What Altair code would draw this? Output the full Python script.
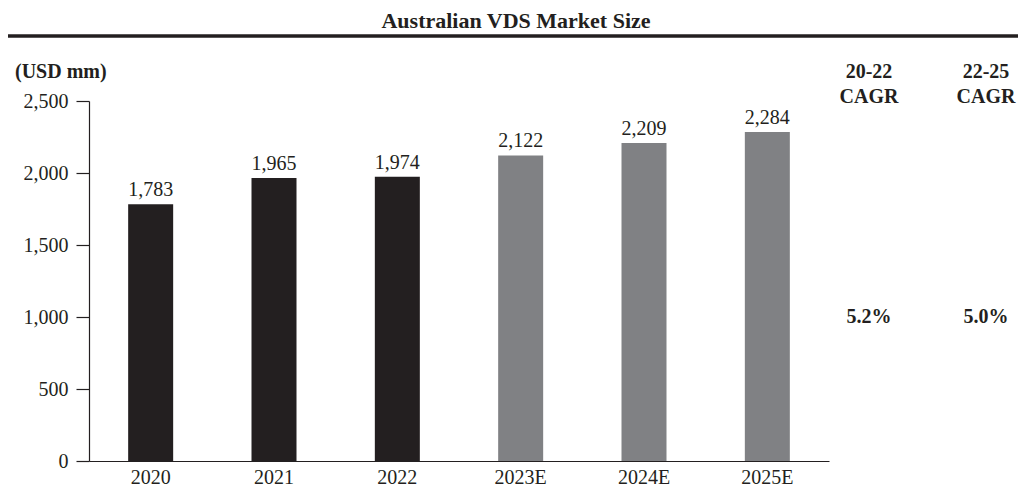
import altair as alt
import pandas as pd

years = ["2020", "2021", "2022", "2023E", "2024E", "2025E"]
values = [1783, 1965, 1974, 2122, 2209, 2284]
kinds = ["Actual", "Actual", "Actual", "Estimate", "Estimate", "Estimate"]
y_ticks = [0, 500, 1000, 1500, 2000, 2500]

cagr_heads = ["20-22", "22-25"]
cagr_vals = ["5.2%", "5.0%"]

title_text = "Australian VDS Market Size"
unit_text = "(USD mm)"

FONT = "Liberation Serif"
BLACK = "#231f20"
GREY = "#808184"
INK = "#231f20"

df = pd.DataFrame({"year": years, "value": values, "kind": kinds})
df["label"] = [f"{v:,}" for v in values]

W, H = 740, 360
LEFT, TOP = 81, 93
OX, OY = 8 + LEFT, 8 + TOP  # page position of the view origin

base = alt.Chart(df)

bars = base.mark_bar(size=45).encode(
    x=alt.X("year:N", sort=years, title=None,
            scale=alt.Scale(paddingInner=0.635, paddingOuter=0.3175),
            axis=alt.Axis(labelAngle=0, ticks=False, domainColor=INK,
                          domainWidth=1.2, labelFont=FONT, labelFontSize=20,
                          labelColor=INK, labelPadding=6)),
    y=alt.Y("value:Q", title=None,
            scale=alt.Scale(domain=[0, 2500], nice=False),
            axis=alt.Axis(values=y_ticks, labelExpr="format(datum.value, ',')",
                          grid=False,
                          tickSize=13, tickColor=INK, tickWidth=1.2,
                          domainColor=INK, domainWidth=1.2,
                          labelFont=FONT, labelFontSize=20, labelColor=INK,
                          labelPadding=8)),
    color=alt.Color("kind:N", scale=alt.Scale(domain=["Actual", "Estimate"],
                                              range=[BLACK, GREY]), legend=None),
)

labels = base.mark_text(dy=-8, baseline="alphabetic", font=FONT, fontSize=20,
                        color=INK).encode(
    x=alt.X("year:N", sort=years),
    y=alt.Y("value:Q"),
    text="label:N",
)

def vx(px):
    return px - OX

def vy(py):
    return py - OY

title = alt.Chart(pd.DataFrame({"t": [title_text]})).mark_text(
    font=FONT, fontSize=22, fontWeight="bold", color=INK, baseline="alphabetic"
).encode(x=alt.value(vx(516)), y=alt.value(vy(28)), text="t:N")

rule = alt.Chart(pd.DataFrame({"a": [0]})).mark_rule(
    strokeWidth=3.5, color=INK
).encode(x=alt.value(vx(0)), x2=alt.value(vx(1026)), y=alt.value(vy(36)))

unit = alt.Chart(pd.DataFrame({"t": [unit_text]})).mark_text(
    font=FONT, fontSize=20, fontWeight="bold", color=INK, align="left"
).encode(x=alt.value(vx(15)), y=alt.value(vy(72)), text="t:N")

cagr_x = [869, 986]
cagr_df = pd.DataFrame({
    "head": cagr_heads,
    "val": cagr_vals,
    "px": [vx(x) for x in cagr_x],
})

heads = alt.Chart(cagr_df).mark_text(
    font=FONT, fontSize=20, fontWeight="bold", color=INK
).encode(x=alt.X("px:Q", scale=None), y=alt.value(vy(72)), text="head:N")

cagr_lbl = alt.Chart(cagr_df).mark_text(
    font=FONT, fontSize=20, fontWeight="bold", color=INK
).encode(x=alt.X("px:Q", scale=None), y=alt.value(vy(97)), text=alt.value("CAGR"))

vals = alt.Chart(cagr_df).mark_text(
    font=FONT, fontSize=20, fontWeight="bold", color=INK
).encode(x=alt.X("px:Q", scale=None), y=alt.value(vy(317)), text="val:N")

chart = alt.layer(bars, labels, title, rule, unit, heads, cagr_lbl, vals).properties(
    width=W, height=H,
    background="white",
    autosize=alt.AutoSizeParams(type="none"),
    padding={"left": LEFT, "top": TOP, "right": 1010 - LEFT - W, "bottom": 478 - TOP - H},
).configure_view(stroke=None, strokeWidth=0)

chart.save("out.html", embed_options={"renderer": "svg", "actions": False})
